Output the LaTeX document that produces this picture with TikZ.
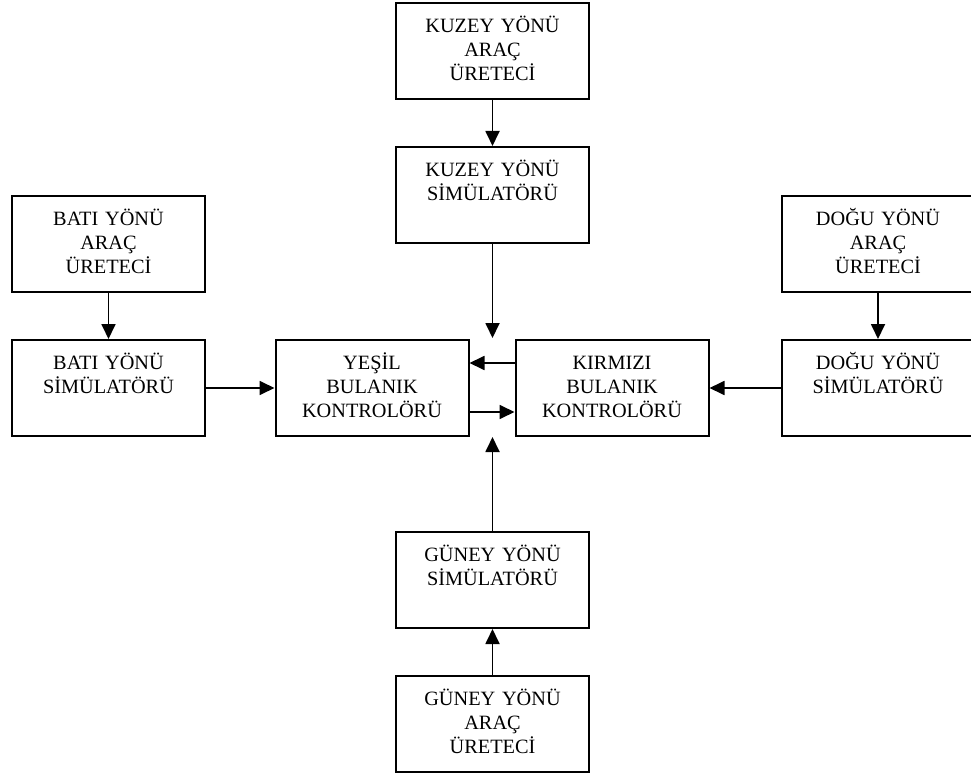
\documentclass[tikz,border=0pt]{standalone}
\usepackage{fontspec}
\setmainfont{Liberation Serif}
\usepackage{tikz}
\usetikzlibrary{arrows.meta, positioning}
\tikzstyle{okstil} = [line width=1.8pt, -{Triangle[length=15pt, width=14pt]}]

\begin{document}
\begin{tikzpicture}[
    x=1pt, y=-1pt,
    kutu/.style={rectangle, draw, line width=2pt, inner sep=0pt, text width=193pt, align=center,
                 text height=29.5pt, text depth=66.5pt, font=\fontsize{20.3}{24}\selectfont},
]
\useasboundingbox (0,0) rectangle (971,778);

% North branch
\node[kutu] (kuzeyUretec) at (492.5, 51.5) {KUZEY YÖNÜ\\ARAÇ\\ÜRETECİ};
\node[kutu] (kuzeySim) at (492.5, 195) {KUZEY YÖNÜ\\SİMÜLATÖRÜ};

% West branch
\node[kutu] (batiUretec) at (108.5, 244) {BATI YÖNÜ\\ARAÇ\\ÜRETECİ};
\node[kutu] (batiSim) at (108.5, 388) {BATI YÖNÜ\\SİMÜLATÖRÜ};

% Fuzzy controllers
\node[kutu] (yesil) at (372, 388) {YEŞİL\\BULANIK\\KONTROLÖRÜ};
\node[kutu] (kirmizi) at (612, 388) {KIRMIZI\\BULANIK\\KONTROLÖRÜ};

% East branch (cut off at the right edge)
\node[kutu] (doguUretec) at (878, 244) {DOĞU YÖNÜ\\ARAÇ\\ÜRETECİ};
\node[kutu] (doguSim) at (878, 388) {DOĞU YÖNÜ\\SİMÜLATÖRÜ};

% South branch
\node[kutu] (guneySim) at (492.5, 580) {GÜNEY YÖNÜ\\SİMÜLATÖRÜ};
\node[kutu] (guneyUretec) at (492.5, 724) {GÜNEY YÖNÜ\\ARAÇ\\ÜRETECİ};

% Arrow ends in the gap between the controllers
\coordinate (ustUc) at (492.5, 338);
\coordinate (altUc) at (492.5, 437);

% Generators to simulators
\draw[okstil] (kuzeyUretec.south) -- (kuzeySim.north);
\draw[okstil] (batiUretec.south) -- (batiSim.north);
\draw[okstil] (doguUretec.south) -- (doguSim.north);
\draw[okstil] (guneyUretec.north) -- (guneySim.south);

% Simulators to controllers
\draw[okstil] (kuzeySim.south) -- (ustUc);
\draw[okstil] (guneySim.north) -- (altUc);
\draw[okstil] (batiSim.east) -- (yesil.west);
\draw[okstil] (doguSim.west) -- (kirmizi.east);

% Between controllers
\draw[okstil] ([yshift=25pt]kirmizi.west) -- ([yshift=25pt]yesil.east);
\draw[okstil] ([yshift=-24pt]yesil.east) -- ([yshift=-24pt]kirmizi.west);

\end{tikzpicture}
\end{document}
